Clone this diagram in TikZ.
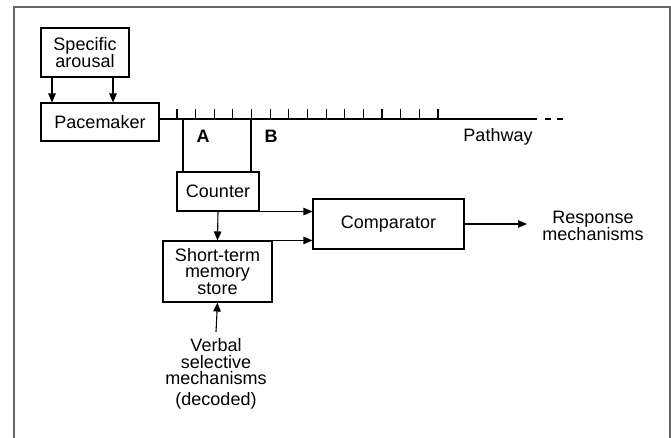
\documentclass[tikz,border=0pt]{standalone}
\usepackage{fontspec}
\setsansfont{Liberation Sans}
\usetikzlibrary{arrows.meta}

\begin{document}
\begin{tikzpicture}[x=1pt,y=-1pt,>={Triangle[length=9pt,width=7.5pt]},line width=1.1pt,
                    box node/.style={draw,rectangle,inner sep=0pt,align=center,font=\sffamily\fontsize{18}{16.5}\selectfont},
                    text node/.style={inner sep=0pt,align=center,font=\sffamily\fontsize{18}{16.5}\selectfont}]

  \useasboundingbox (0,0) rectangle (671,438);
  \draw[gray!80!black,line width=1.6pt] (14,438) -- (14,7) -- (670,7) -- (670,438);

  \node[box node,minimum width=88pt,minimum height=49pt] (arousal) at (85,52.5) {Specific\\arousal};
  \node[box node,minimum width=118pt,minimum height=38pt] (pace) at (100,122) {Pacemaker};
  \node[box node,minimum width=82pt,minimum height=39pt] (cnt) at (218,191.5) {Counter};
  \node[box node,minimum width=109pt,minimum height=61pt] (stm) at (217.5,271.5) {Short-term\\memory\\store};
  \node[box node,minimum width=151pt,minimum height=50pt] (cmp) at (388.5,224) {Comparator};
  \node[text node] (resp) at (593,226) {Response\\mechanisms};
  \node[text node,anchor=north] (verbal) at (216,338) {Verbal\\selective\\mechanisms\\[4pt](decoded)};
  \node[text node] (path) at (498,137) {Pathway};
  \node[text node,font=\sffamily\bfseries\fontsize{18}{16.5}\selectfont] (A) at (203,136) {A};
  \node[text node,font=\sffamily\bfseries\fontsize{18}{16.5}\selectfont] (B) at (271,136) {B};

  % pathway with ticks
  \coordinate (start) at (159,119);
  \coordinate (pend) at (537,119);
  \draw (start) -- (pend);
  \foreach \x in {545,557}
    \draw (\x,119) -- ++(6,0);
  \foreach \i in {0,...,14}
    \draw (177+\i*18.64,119) -- ++(0,-10);

  % gates A and B
  \draw (183,119) -- (cnt.north -| 183,0);
  \draw (251,119) -- (cnt.north -| 251,0);

  \path[->]
    (arousal.south -| 52,0) edge (pace.north -| 52,0)
    (arousal.south -| 113,0) edge (pace.north -| 113,0)
    (cnt.south) edge (stm.north)
    (cnt.south east) edge (cnt.south east -| cmp.west)
    (stm.north east) edge (stm.north east -| cmp.west)
    (cmp.east) edge (cmp.east -| 527,0)
    (verbal.north) ++(0,-6) edge (stm.south);
\end{tikzpicture}
\end{document}
